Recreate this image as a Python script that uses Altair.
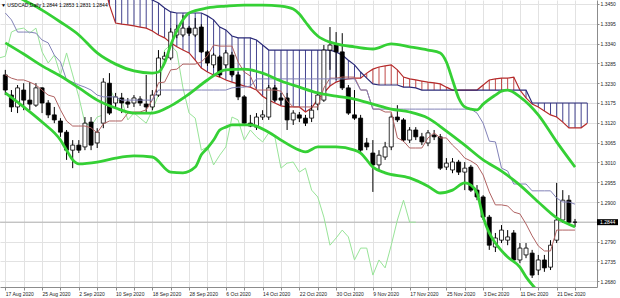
import altair as alt
import pandas as pd

FONT = "Liberation Sans"

date_labels = ["17 Aug 2020", "25 Aug 2020", "2 Sep 2020", "10 Sep 2020", "18 Sep 2020",
               "28 Sep 2020", "6 Oct 2020", "14 Oct 2020", "22 Oct 2020", "30 Oct 2020",
               "9 Nov 2020", "17 Nov 2020", "25 Nov 2020", "3 Dec 2020", "11 Dec 2020",
               "21 Dec 2020"]
price_ticks = [1.2680, 1.2735, 1.2790, 1.2845, 1.2900, 1.2955, 1.3010, 1.3065, 1.3120,
               1.3175, 1.3230, 1.3285, 1.3340, 1.3395, 1.3450]

opens = [1.3253, 1.3197, 1.3164, 1.3211, 1.3183, 1.3169, 1.3217, 1.3175, 1.3142, 1.3125,
         1.3094, 1.3044, 1.3058, 1.3053, 1.3122, 1.3064, 1.3119, 1.3230, 1.3175, 1.3189,
         1.3178, 1.3175, 1.3186, 1.3172, 1.3164, 1.3197, 1.3297, 1.3300, 1.3364, 1.3364,
         1.3383, 1.3364, 1.3386, 1.3317, 1.3281, 1.3303, 1.3281, 1.3308, 1.3253, 1.3192,
         1.3119, 1.3108, 1.3136, 1.3136, 1.3217, 1.3189, 1.3189, 1.3128, 1.3142, 1.3133,
         1.3133, 1.3172, 1.3183, 1.3322, 1.3336, 1.3317, 1.3217, 1.3142, 1.3133, 1.3064,
         1.3036, 1.3003, 1.3025, 1.3053, 1.3136, 1.3128, 1.3072, 1.3100, 1.3081, 1.3064,
         1.3086, 1.3081, 1.2997, 1.2989, 1.3011, 1.2983, 1.2997, 1.2933, 1.2914, 1.2858,
         1.2775, 1.2794, 1.2794, 1.2814, 1.2739, 1.2753, 1.2758, 1.2711, 1.2739, 1.2719,
         1.2794, 1.2850, 1.2905, 1.2844]
highs = [1.3267, 1.3211, 1.3225, 1.3230, 1.3233, 1.3230, 1.3219, 1.3183, 1.3164, 1.3133,
         1.3100, 1.3072, 1.3072, 1.3136, 1.3136, 1.3105, 1.3244, 1.3258, 1.3203, 1.3203,
         1.3189, 1.3197, 1.3194, 1.3253, 1.3211, 1.3322, 1.3317, 1.3383, 1.3392, 1.3419,
         1.3389, 1.3411, 1.3394, 1.3322, 1.3314, 1.3308, 1.3322, 1.3317, 1.3261, 1.3197,
         1.3142, 1.3147, 1.3155, 1.3225, 1.3225, 1.3203, 1.3203, 1.3155, 1.3150, 1.3142,
         1.3169, 1.3203, 1.3336, 1.3386, 1.3372, 1.3369, 1.3225, 1.3211, 1.3142, 1.3078,
         1.3072, 1.3044, 1.3067, 1.3147, 1.3169, 1.3133, 1.3108, 1.3108, 1.3092, 1.3100,
         1.3100, 1.3089, 1.3022, 1.3022, 1.3017, 1.3011, 1.3003, 1.2947, 1.2919, 1.2864,
         1.2814, 1.2836, 1.2822, 1.2822, 1.2786, 1.2786, 1.2767, 1.2753, 1.2753, 1.2794,
         1.2953, 1.2933, 1.2919, 1.2853]
lows = [1.3197, 1.3150, 1.3147, 1.3155, 1.3155, 1.3164, 1.3147, 1.3133, 1.3119, 1.3081,
        1.3017, 1.2994, 1.3036, 1.3044, 1.3044, 1.3050, 1.3105, 1.3142, 1.3161, 1.3147,
        1.3161, 1.3164, 1.3167, 1.3147, 1.3155, 1.3192, 1.3289, 1.3294, 1.3355, 1.3358,
        1.3361, 1.3358, 1.3314, 1.3278, 1.3272, 1.3247, 1.3272, 1.3247, 1.3183, 1.3114,
        1.3108, 1.3100, 1.3128, 1.3128, 1.3178, 1.3169, 1.3100, 1.3114, 1.3122, 1.3111,
        1.3122, 1.3155, 1.3178, 1.3267, 1.3239, 1.3211, 1.3142, 1.3128, 1.3039, 1.3044,
        1.2928, 1.2989, 1.3017, 1.3044, 1.3122, 1.3067, 1.3064, 1.3072, 1.3058, 1.3055,
        1.3072, 1.2989, 1.2989, 1.2980, 1.2975, 1.2933, 1.2928, 1.2905, 1.2850, 1.2767,
        1.2761, 1.2786, 1.2780, 1.2733, 1.2730, 1.2744, 1.2689, 1.2697, 1.2706, 1.2711,
        1.2786, 1.2842, 1.2836, 1.2831]
closes = [1.3211, 1.3164, 1.3217, 1.3183, 1.3172, 1.3217, 1.3175, 1.3142, 1.3128, 1.3094,
          1.3044, 1.3058, 1.3044, 1.3119, 1.3058, 1.3094, 1.3233, 1.3147, 1.3192, 1.3175,
          1.3172, 1.3189, 1.3175, 1.3164, 1.3197, 1.3300, 1.3305, 1.3372, 1.3380, 1.3383,
          1.3369, 1.3383, 1.3317, 1.3286, 1.3308, 1.3253, 1.3314, 1.3253, 1.3192, 1.3119,
          1.3111, 1.3136, 1.3142, 1.3217, 1.3183, 1.3183, 1.3128, 1.3147, 1.3133, 1.3119,
          1.3155, 1.3197, 1.3322, 1.3336, 1.3317, 1.3217, 1.3147, 1.3133, 1.3044, 1.3053,
          1.3003, 1.3030, 1.3053, 1.3136, 1.3128, 1.3072, 1.3100, 1.3081, 1.3067, 1.3092,
          1.3081, 1.2994, 1.3008, 1.3011, 1.2983, 1.2994, 1.2933, 1.2914, 1.2858, 1.2780,
          1.2800, 1.2822, 1.2803, 1.2739, 1.2772, 1.2772, 1.2697, 1.2739, 1.2717, 1.2780,
          1.2850, 1.2905, 1.2844, 1.2844]

tenkan = [1.3253, 1.3244, 1.3239, 1.3239, 1.3233, 1.3225, 1.3211, 1.3197, 1.3192, 1.3156,
          1.3125, 1.3111, 1.3111, 1.3111, 1.3106, 1.3092, 1.3117, 1.3125, 1.3125, 1.3125,
          1.3147, 1.3150, 1.3150, 1.3156, 1.3183, 1.3231, 1.3233, 1.3267, 1.3269, 1.3283,
          1.3283, 1.3283, 1.3289, 1.3306, 1.3336, 1.3333, 1.3333, 1.3333, 1.3289, 1.3261,
          1.3250, 1.3211, 1.3211, 1.3211, 1.3211, 1.3208, 1.3181, 1.3164, 1.3164, 1.3164,
          1.3164, 1.3164, 1.3217, 1.3244, 1.3244, 1.3247, 1.3247, 1.3247, 1.3211, 1.3211,
          1.3158, 1.3158, 1.3150, 1.3150, 1.3078, 1.3069, 1.3050, 1.3050, 1.3050, 1.3078,
          1.3092, 1.3078, 1.3078, 1.3058, 1.3042, 1.3022, 1.3014, 1.3003, 1.2975, 1.2928,
          1.2892, 1.2892, 1.2889, 1.2872, 1.2867, 1.2839, 1.2806, 1.2778, 1.2764, 1.2764,
          1.2822, 1.2822, 1.2822, 1.2822]
kijun = [1.3425, 1.3406, 1.3372, 1.3372, 1.3372, 1.3369, 1.3350, 1.3342, 1.3308, 1.3289,
         1.3239, 1.3233, 1.3225, 1.3219, 1.3211, 1.3197, 1.3192, 1.3192, 1.3192, 1.3183,
         1.3183, 1.3183, 1.3183, 1.3183, 1.3183, 1.3211, 1.3211, 1.3211, 1.3211, 1.3211,
         1.3211, 1.3211, 1.3211, 1.3211, 1.3211, 1.3211, 1.3211, 1.3217, 1.3219, 1.3219,
         1.3222, 1.3242, 1.3242, 1.3242, 1.3242, 1.3242, 1.3242, 1.3242, 1.3242, 1.3242,
         1.3242, 1.3242, 1.3242, 1.3242, 1.3242, 1.3242, 1.3242, 1.3242, 1.3211, 1.3211,
         1.3158, 1.3158, 1.3158, 1.3158, 1.3158, 1.3158, 1.3158, 1.3158, 1.3158, 1.3158,
         1.3158, 1.3158, 1.3158, 1.3158, 1.3158, 1.3158, 1.3158, 1.3147, 1.3119, 1.3069,
         1.3067, 1.2994, 1.2986, 1.2950, 1.2950, 1.2950, 1.2931, 1.2931, 1.2931, 1.2931,
         1.2911, 1.2900, 1.2900, 1.2894]

# Ichimoku cloud, bars 16..95 (runs 26 bars ahead of price)
cloud_start = 16
span_a = [1.3517, 1.3447, 1.3397, 1.3394, 1.3392, 1.3389, 1.3386, 1.3383, 1.3375, 1.3364,
          1.3356, 1.3342, 1.3331, 1.3322, 1.3314, 1.3294, 1.3272, 1.3261, 1.3253, 1.3247,
          1.3239, 1.3233, 1.3228, 1.3222, 1.3219, 1.3211, 1.3194, 1.3183, 1.3175, 1.3167,
          1.3164, 1.3164, 1.3164, 1.3150, 1.3161, 1.3186, 1.3203, 1.3222, 1.3233, 1.3239,
          1.3242, 1.3244, 1.3244, 1.3258, 1.3269, 1.3275, 1.3278, 1.3281, 1.3267, 1.3247,
          1.3242, 1.3239, 1.3236, 1.3233, 1.3231, 1.3228, 1.3219, 1.3211, 1.3211, 1.3211,
          1.3211, 1.3211, 1.3225, 1.3239, 1.3242, 1.3244, 1.3244, 1.3247, 1.3211, 1.3189,
          1.3172, 1.3164, 1.3153, 1.3142, 1.3136, 1.3122, 1.3106, 1.3106, 1.3106, 1.3119]
span_b = [1.3544, 1.3503, 1.3494, 1.3489, 1.3483, 1.3478, 1.3475, 1.3469, 1.3461, 1.3453,
          1.3439, 1.3428, 1.3425, 1.3425, 1.3425, 1.3425, 1.3425, 1.3417, 1.3406, 1.3386,
          1.3378, 1.3361, 1.3356, 1.3356, 1.3356, 1.3350, 1.3336, 1.3322, 1.3322, 1.3322,
          1.3322, 1.3322, 1.3322, 1.3322, 1.3322, 1.3322, 1.3322, 1.3322, 1.3317, 1.3308,
          1.3294, 1.3281, 1.3261, 1.3244, 1.3228, 1.3225, 1.3225, 1.3225, 1.3225, 1.3219,
          1.3219, 1.3217, 1.3211, 1.3211, 1.3211, 1.3211, 1.3211, 1.3211, 1.3211, 1.3211,
          1.3211, 1.3211, 1.3211, 1.3211, 1.3211, 1.3211, 1.3211, 1.3211, 1.3211, 1.3211,
          1.3175, 1.3175, 1.3175, 1.3175, 1.3175, 1.3175, 1.3175, 1.3175, 1.3175, 1.3175]

# Bollinger bands (bar, price)
bb_upper_bars = [0, 3, 6, 9, 12, 15, 18, 21, 24, 25, 26, 27, 28, 29, 30, 33, 36, 39, 42, 45,
                 47, 48, 49, 50, 51, 53, 54, 57, 60, 63, 66, 69, 71, 72, 73, 74, 75, 76, 77, 78,
                 80, 81, 82, 84, 87, 90, 93]
bb_upper = [1.3489, 1.3461, 1.3433, 1.3400, 1.3364, 1.3314, 1.3283, 1.3264, 1.3258, 1.3261,
            1.3286, 1.3336, 1.3375, 1.3406, 1.3425, 1.3439, 1.3444, 1.3447, 1.3447, 1.3444,
            1.3436, 1.3422, 1.3400, 1.3378, 1.3361, 1.3344, 1.3339, 1.3331, 1.3325, 1.3339,
            1.3331, 1.3322, 1.3314, 1.3289, 1.3239, 1.3189, 1.3164, 1.3158, 1.3156, 1.3172,
            1.3197, 1.3208, 1.3211, 1.3192, 1.3142, 1.3067, 1.2997]
bb_mid_bars = [0, 3, 6, 9, 12, 15, 18, 21, 24, 27, 30, 33, 36, 39, 42, 45, 48, 51, 54, 57,
               60, 63, 66, 69, 72, 75, 78, 81, 84, 87, 90, 93]
bb_mid = [1.3342, 1.3311, 1.3278, 1.3250, 1.3217, 1.3183, 1.3161, 1.3147, 1.3147, 1.3167,
          1.3200, 1.3239, 1.3267, 1.3269, 1.3258, 1.3236, 1.3219, 1.3203, 1.3194, 1.3186,
          1.3172, 1.3158, 1.3150, 1.3133, 1.3097, 1.3058, 1.3017, 1.2986, 1.2947, 1.2900,
          1.2856, 1.2831]
bb_lower_bars = [0, 3, 6, 9, 10, 11, 12, 15, 18, 21, 24, 27, 29, 31, 32, 33, 34, 35, 36, 37,
                 40, 43, 45, 48, 49, 51, 54, 57, 58, 60, 62, 66, 69, 71, 73, 75, 76, 77, 78, 79,
                 80, 82, 84, 85, 87, 90, 93]
bb_lower = [1.3203, 1.3164, 1.3122, 1.3072, 1.3044, 1.3017, 1.3006, 1.3011, 1.3022, 1.3028,
            1.3025, 1.2983, 1.2981, 1.2997, 1.3031, 1.3050, 1.3072, 1.3100, 1.3108, 1.3114,
            1.3114, 1.3094, 1.3072, 1.3044, 1.3039, 1.3053, 1.3053, 1.3044, 1.3036, 1.2997,
            1.2981, 1.2967, 1.2944, 1.2925, 1.2933, 1.2953, 1.2947, 1.2925, 1.2858, 1.2814,
            1.2786, 1.2747, 1.2719, 1.2692, 1.2650, 1.2586, 1.2531]

header = "\u25BC USDCAD,Daily  1.2844 1.2853 1.2831 1.2844"

# ---------------------------------------------------------------- data frames
n = len(closes)
candles = pd.DataFrame({"bar": list(range(n)), "open": opens, "high": highs,
                        "low": lows, "close": closes})
lines_df = pd.DataFrame({"bar": list(range(n)), "tenkan": tenkan, "kijun": kijun})
chikou_df = pd.DataFrame({"bar": [b - 26 for b in range(n)], "close": closes})
cloud = pd.DataFrame({"bar": list(range(cloud_start, cloud_start + len(span_a))),
                      "a": span_a, "b": span_b})
up_df = pd.DataFrame({"bar": bb_upper_bars, "v": bb_upper})
mid_df = pd.DataFrame({"bar": bb_mid_bars, "v": bb_mid})
low_df = pd.DataFrame({"bar": bb_lower_bars, "v": bb_lower})
last_df = pd.DataFrame({"p": [closes[-1]], "t": [f"{closes[-1]:.4f}"]})
head_df = pd.DataFrame({"t": [header]})

W, H = 597, 287
x_scale = alt.Scale(domain=[-0.05, 95.77], nice=False, zero=False)
y_scale = alt.Scale(domain=[1.26639, 1.34611], nice=False, zero=False)

GRID = "#e2e2e2"
AXC = "#8c8c8c"
lab_arr = "[" + ",".join(f"'{d}'" for d in date_labels) + "]"

x_axis = alt.Axis(values=list(range(0, 94, 3)), grid=True, gridColor=GRID, gridWidth=1,
                  labelExpr=f"datum.value % 6 == 0 ? {lab_arr}[datum.value / 6] : ''",
                  labelAlign="left", labelBaseline="top", labelPadding=1, labelFontSize=5,
                  labelFont=FONT, labelColor="#222222", labelOverlap=False, labelFlush=False,
                  tickSize=3, tickColor=AXC, domainColor=AXC, domainWidth=1, orient="bottom",
                  title=None)
y_axis = alt.Axis(orient="right", values=price_ticks, grid=True, gridColor=GRID, gridWidth=1,
                  labelExpr="abs(datum.value - 1.2845) < 0.00001 ? '' : format(datum.value, '.4f')",
                  labelAlign="left", labelBaseline="middle", labelPadding=1, labelFontSize=5,
                  labelFont=FONT, labelColor="#222222", labelOverlap=False, labelFlush=False,
                  tickSize=2, tickColor=AXC, domainColor=AXC, domainWidth=1, title=None)


def X(field="bar"):
    return alt.X(f"{field}:Q", scale=x_scale, axis=x_axis, title=None)


def Y(field):
    return alt.Y(f"{field}:Q", scale=y_scale, axis=y_axis, title=None)


bid = alt.Chart(last_df).mark_rule(color="#b4b4b4", strokeWidth=1).encode(y=Y("p"))

hatch = alt.Chart(cloud).mark_rule(strokeWidth=1, clip=True).encode(
    x=X(), y=Y("a"), y2=alt.Y2("b"),
    color=alt.condition("datum.a > datum.b", alt.value("#c04a4a"), alt.value("#44448f")))
line_a = alt.Chart(cloud).mark_line(color="#b52a2a", strokeWidth=1.2, clip=True).encode(x=X(), y=Y("a"))
line_b = alt.Chart(cloud).mark_line(color="#2a2a78", strokeWidth=1.2, clip=True).encode(x=X(), y=Y("b"))

wick = alt.Chart(candles).mark_rule(color="#000000", strokeWidth=1).encode(
    x=X(), y=Y("low"), y2=alt.Y2("high"))
body = alt.Chart(candles).mark_bar(width=4, stroke="#000000", strokeWidth=0.8).encode(
    x=X(), y=Y("open"), y2=alt.Y2("close"),
    fill=alt.condition("datum.close >= datum.open", alt.value("#ffffff"), alt.value("#000000")))

tk = alt.Chart(lines_df).mark_line(color="#b06262", strokeWidth=1, clip=True).encode(x=X(), y=Y("tenkan"))
kj = alt.Chart(lines_df).mark_line(color="#8282b8", strokeWidth=1, clip=True).encode(x=X(), y=Y("kijun"))
ck = alt.Chart(chikou_df).mark_line(color="#98e498", strokeWidth=1, clip=True).encode(x=X(), y=Y("close"))

BB = "#35d035"
bb_u = alt.Chart(up_df).mark_line(color=BB, strokeWidth=2.8, interpolate="monotone", clip=True).encode(x=X(), y=Y("v"))
bb_m = alt.Chart(mid_df).mark_line(color=BB, strokeWidth=2.8, interpolate="monotone", clip=True).encode(x=X(), y=Y("v"))
bb_l = alt.Chart(low_df).mark_line(color=BB, strokeWidth=2.8, interpolate="monotone", clip=True).encode(x=X(), y=Y("v"))

head = alt.Chart(head_df).mark_text(align="left", baseline="middle", fontSize=5, font=FONT,
                                    color="#000000").encode(x=alt.value(1), y=alt.value(5), text="t:N")

box = alt.Chart(last_df).mark_rule(color="#000000", strokeWidth=6).encode(
    x=alt.value(W), x2=alt.value(W + 21), y=Y("p"))
box_t = alt.Chart(last_df).mark_text(align="left", baseline="middle", fontSize=5, font=FONT,
                                     color="#ffffff").encode(x=alt.value(W + 3), y=Y("p"), text="t:N")

chart = alt.layer(bid, hatch, line_a, line_b, ck, wick, body, tk, kj,
                  bb_u, bb_m, bb_l, head, box, box_t).properties(
    width=W, height=H,
    padding={"left": 0, "top": 0, "right": 23, "bottom": 11},
    autosize=alt.AutoSizeParams(type="none"),
    background="white",
).configure_view(stroke=None)

chart.save("out.html", embed_options={"renderer": "svg", "actions": False})
